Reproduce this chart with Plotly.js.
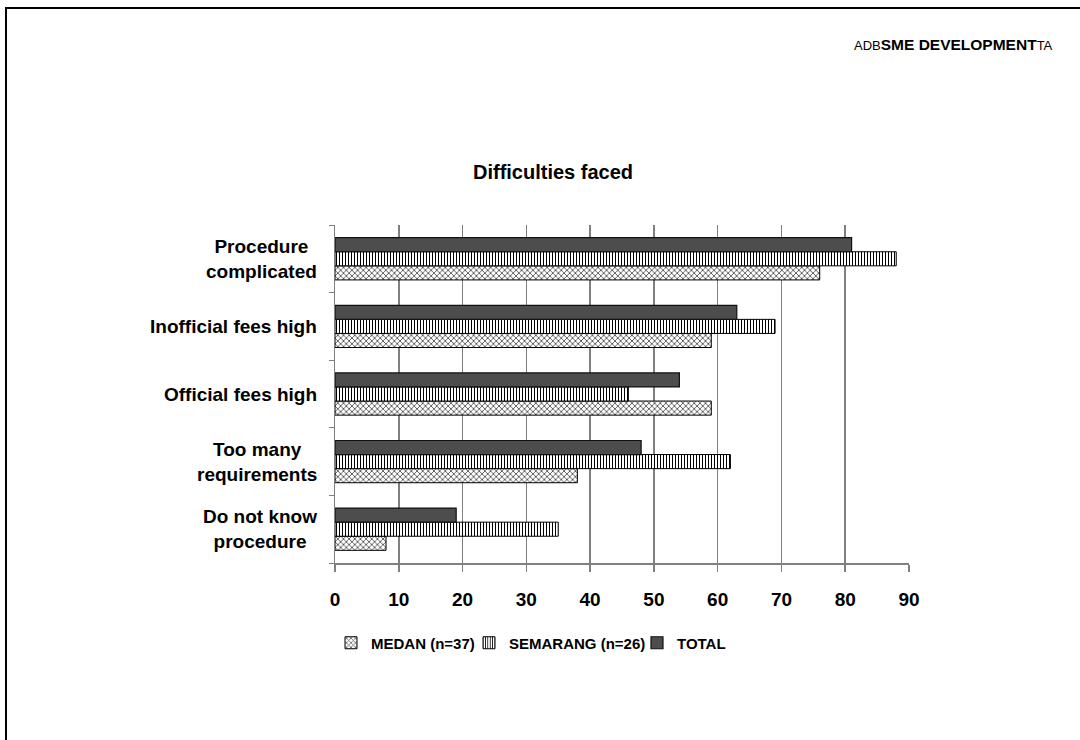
<!DOCTYPE html>
<html>
<head>
<meta charset="utf-8">
<script src="https://cdn.plot.ly/plotly-3.0.1.min.js"></script>
<style>
  html, body { margin: 0; padding: 0; background: #fff; }
  #chart { width: 1080px; height: 740px; }
  /* slide frame: top and left rules */
  #frame {
    position: absolute; left: 5px; top: 7px; right: 0; bottom: 0;
    border-top: 2px solid #000; border-left: 2px solid #000;
    pointer-events: none;
  }
</style>
</head>
<body>
<div id="chart"></div>
<div id="frame"></div>
<script>
// Survey answers, listed top to bottom as shown
const categories = [
  'Procedure complicated',
  'Inofficial fees high',
  'Official fees high',
  'Too many requirements',
  'Do not know procedure'
];
const categoryLabels = [
  'Procedure<br>complicated',
  'Inofficial fees high',
  'Official fees high',
  'Too many<br>requirements',
  'Do not know<br>procedure'
];
const seriesNames = ['MEDAN (n=37)', 'SEMARANG (n=26)', 'TOTAL'];
const medan    = [76, 59, 59, 38, 8];
const semarang = [88, 69, 46, 62, 35];
const total    = [81, 63, 54, 48, 19];
const xTicks   = [0, 10, 20, 30, 40, 50, 60, 70, 80, 90];

const FONT = '"Liberation Sans", Arial, Helvetica, sans-serif';
const outline = { color: '#000', width: 1 };

// plot area in pixels, used to place items given in paper units
const PL = 335, PR = 909, PT = 225, PB = 563;
const px2x = p => (p - PL) / (PR - PL);
const px2y = p => (PB - p) / (PB - PT);

const traces = [
  {
    type: 'bar', orientation: 'h', name: seriesNames[0],
    x: medan, y: categories, legend: 'legend', showlegend: true,
    marker: {
      color: '#ffffff', line: outline,
      pattern: { shape: 'x', size: 4, solidity: 0.4, fgcolor: '#555', bgcolor: '#ffffff' }
    }
  },
  {
    type: 'bar', orientation: 'h', name: seriesNames[1],
    x: semarang, y: categories, legend: 'legend2', showlegend: true,
    marker: {
      color: '#ffffff', line: outline,
      pattern: { shape: '|', size: 3, solidity: 0.35, fgcolor: '#000', bgcolor: '#ffffff' }
    }
  },
  {
    type: 'bar', orientation: 'h', name: seriesNames[2],
    x: total, y: categories, legend: 'legend3', showlegend: true,
    marker: { color: '#4d4d4d', line: { color: '#111', width: 1.2 } }
  }
];

// Category names sit left of the axis, each block centred on itself
const labelAnnotations = categories.map((c, i) => ({
  xref: 'paper', yref: 'y', x: 0, y: c,
  xanchor: 'right', yanchor: 'middle', xshift: -16,
  align: 'center', showarrow: false,
  text: categoryLabels[i],
  font: { family: FONT, size: 19, weight: 'bold', color: '#000' }
}));

const headerAnnotation = {
  xref: 'paper', yref: 'paper', x: px2x(1055), y: px2y(44),
  xanchor: 'right', yanchor: 'middle', showarrow: false,
  text: '<span style="font-size:13px;font-weight:normal">ADB</span>SME DEVELOPMENT<span style="font-size:13px;font-weight:normal">TA</span>',
  font: { family: FONT, size: 15.5, weight: 'bold', color: '#000' }
};

// one small legend per series so each entry can be spaced freely
const legendBase = {
  xanchor: 'left', yanchor: 'middle',
  y: px2y(643), bgcolor: 'rgba(0,0,0,0)', borderwidth: 0,
  font: { family: FONT, size: 15, weight: 'bold', color: '#000' }
};

const layout = {
  width: 1080, height: 740,
  showlegend: true,
  paper_bgcolor: '#ffffff', plot_bgcolor: '#ffffff',
  margin: { l: PL, r: 1080 - PR, t: PT, b: 740 - PB, pad: 0, autoexpand: false },
  barmode: 'group', bargap: 0.375, bargroupgap: 0,
  font: { family: FONT, color: '#000' },
  title: {
    text: 'Difficulties faced',
    xref: 'container', yref: 'container',
    x: 553 / 1080, y: 1 - 172 / 740, xanchor: 'center', yanchor: 'middle',
    font: { family: FONT, size: 20, weight: 'bold', color: '#000' }
  },
  xaxis: {
    range: [0, 90], tickvals: xTicks, ticktext: xTicks.map(String),
    showgrid: true, gridcolor: '#808080', gridwidth: 1.5,
    zeroline: false, showline: true, linecolor: '#808080', linewidth: 1.5,
    ticks: 'outside', ticklen: 7, tickwidth: 1.5, tickcolor: '#808080',
    ticklabelstandoff: 12,
    tickfont: { family: FONT, size: 19, weight: 'bold', color: '#000' },
    fixedrange: true
  },
  yaxis: {
    type: 'category',
    categoryorder: 'array', categoryarray: categories.slice().reverse(),
    showticklabels: false, tickson: 'boundaries',
    ticks: 'outside', ticklen: 5, tickwidth: 1, tickcolor: '#808080',
    showline: true, linecolor: '#808080', linewidth: 1.5,
    showgrid: false, zeroline: false, fixedrange: true
  },
  legend:  Object.assign({}, legendBase, { x: px2x(331) }),
  legend2: Object.assign({}, legendBase, { x: px2x(469) }),
  legend3: Object.assign({}, legendBase, { x: px2x(637) }),
  annotations: labelAnnotations.concat([headerAnnotation])
};

Plotly.newPlot('chart', traces, layout, { displayModeBar: false, staticPlot: true });
</script>
</body>
</html>
